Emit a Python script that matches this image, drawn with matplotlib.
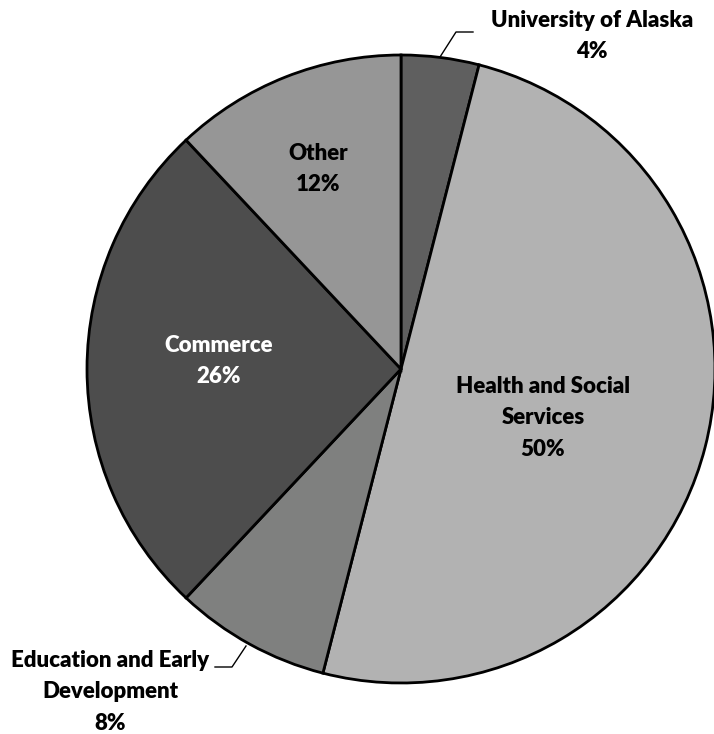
import matplotlib
matplotlib.use("Agg")
import matplotlib.pyplot as plt

# budget share by department, clockwise from 12 o'clock
labels = ["University of Alaska", "Health and Social\nServices",
          "Education and Early\nDevelopment", "Commerce", "Other"]
shares = [4, 50, 8, 26, 12]
colors = ["#5f5f5f", "#b2b2b2", "#7f807f", "#4d4d4d", "#969696"]
text_colors = ["black", "black", "black", "white", "black"]

W, H = 714, 734
fig = plt.figure(figsize=(W / 100, H / 100), dpi=100)
ax = fig.add_axes([0, 0, 1, 1])

cx, cy, r = 401, H - 369, 314
wedges, _ = ax.pie(shares, colors=colors, startangle=90, counterclock=False,
                   center=(cx, cy), radius=r, frame=True,
                   wedgeprops=dict(edgecolor="black", linewidth=2))
ax.set_xlim(0, W)
ax.set_ylim(0, H)
ax.set_aspect("equal")
ax.axis("off")

font = dict(family=["Lato", "DejaVu Sans"], fontweight="heavy", fontsize=16,
            ha="center", va="center", linespacing=1.6)

# label positions in pixel coordinates (top-left origin)
label_pos = [(592, 36), (543, 418), (110, 692), (219, 361), (318, 169)]
for lab, pct, (x, y), tc in zip(labels, shares, label_pos, text_colors):
    ax.text(x, H - y, f"{lab}\n{pct}%", color=tc, **font)

# leader lines for the small outside labels
ax.plot([440, 456, 473], [H - 57, H - 32, H - 32], color="black", lw=1)
ax.plot([246, 232, 215], [H - 646, H - 667, H - 667], color="black", lw=1)

fig.savefig("out.png", dpi=100)
